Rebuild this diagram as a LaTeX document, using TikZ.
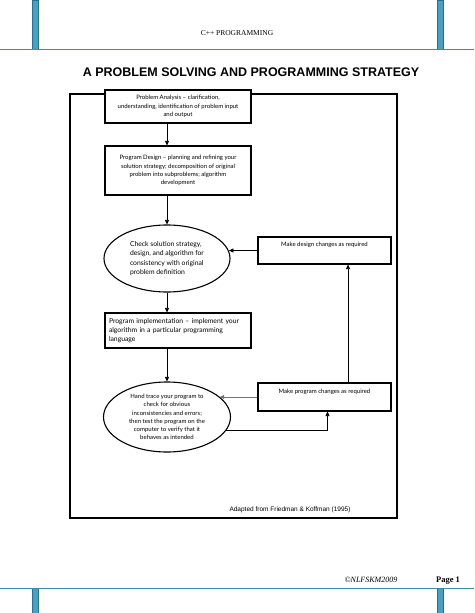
\documentclass[tikz,border=0pt]{standalone}
\usepackage{fontspec}
\setmainfont{Liberation Serif}
\newfontfamily\gillfont{Lato}
\newfontfamily\arialfont{Liberation Sans}
\usetikzlibrary{arrows.meta,shapes.geometric}

\definecolor{barblue}{HTML}{4B9FC1}
\definecolor{baredge}{HTML}{2B6F8A}
\definecolor{ruleteal}{HTML}{3C8D9F}

\newcommand{\smalltxt}{\gillfont\fontsize{6}{8.2}\selectfont}
\newcommand{\bigtxt}{\gillfont\fontsize{6.8}{9.3}\selectfont}

\begin{document}
\begin{tikzpicture}[
        x=1pt, y=-1pt,
        >={Triangle[length=4.5pt,width=4pt]},
        % Block-Stile
        stepbox/.style={draw=black, fill=white, line width=1.1pt, rectangle, minimum width=146pt, align=center, font=\smalltxt},
        checkoval/.style={draw=black, fill=white, line width=1.1pt, ellipse, inner sep=0pt, align=left, font=\bigtxt},
        traceoval/.style={draw=black, fill=white, line width=1.1pt, ellipse, inner sep=0pt, align=center, font=\smalltxt},
        changebox/.style={draw=black, fill=white, line width=1.1pt, rectangle, minimum width=133pt, align=center, font=\smalltxt, text height=5pt},
        flow/.style={->, line width=0.7pt, draw=black},
        pagebar/.style={fill=barblue, draw=baredge, line width=0.5pt}
    ]
    \useasboundingbox (0,0) rectangle (474,613);

    % ==========================================
    % 1. SEITENRAHMEN
    % ==========================================
    \draw[pagebar] (32,0) rectangle (38,49);
    \draw[pagebar] (437,0) rectangle (443,49);
    \draw[ruleteal, line width=0.8pt] (0,49) -- (474,49);
    \draw[pagebar] (32,588) rectangle (38,613);
    \draw[pagebar] (437,588) rectangle (443,613);
    \draw[ruleteal, line width=0.8pt] (0,588) -- (474,588);

    \node (header) at (237, 33) {\fontsize{7.5}{9}\selectfont C++ PROGRAMMING};
    \node (title) at (251, 72) {\arialfont\bfseries\fontsize{12.5}{15}\selectfont A PROBLEM SOLVING AND PROGRAMMING STRATEGY};
    \node[anchor=base] (copyright) at (371, 582) {\fontsize{8}{10}\selectfont\itshape \textcopyright NLFSKM2009};
    \node[anchor=base] (pagenum) at (448, 582) {\fontsize{8.5}{10}\selectfont\bfseries Page 1};

    % Rahmen um das Diagramm
    \draw[line width=1.1pt] (70,94) rectangle (397,518);

    % ==========================================
    % 2. KNOTEN (BLÖCKE) PLATZIEREN
    % ==========================================
    \node[stepbox, minimum height=33pt] (analysis) at (178, 106.5) {Problem Analysis – clarification,\\ understanding, identification of problem input\\ and output};
    \node[stepbox, minimum height=49pt] (design) at (178, 170.5) {Program Design – planning and refining your\\ solution strategy; decomposition of original\\ problem into subproblems; algorithm\\ development};
    \node[checkoval, minimum width=126pt, minimum height=67pt] (check) at (167, 258.5) {Check solution strategy,\\ design, and algorithm for\\ consistency with original\\ problem definition};
    \node[stepbox, minimum height=35pt, text width=138pt, align=left, font=\bigtxt] (implement) at (178, 330.5) {Program implementation – implement your\\ algorithm in a particular programming\\ language};
    \node[traceoval, minimum width=127pt, minimum height=70pt] (trace) at (167, 417) {Hand trace your program to\\ check for obvious\\ inconsistencies and errors;\\ then test the program on the\\ computer to verify that it\\ behaves as intended};

    \node[changebox, minimum height=27pt, text depth=13pt] (designchg) at (324.5, 250.5) {Make design changes as required};
    \node[changebox, minimum height=28pt, text depth=12pt] (progchg) at (324.5, 397) {Make program changes as required};

    \node[anchor=base] (source) at (290, 511) {\arialfont\fontsize{6.5}{8}\selectfont Adapted from Friedman \& Koffman (1995)};

    % ==========================================
    % 3. VERBINDUNGEN ZIEHEN
    % ==========================================
    \draw[flow] (analysis.south -| check) -- (design.north -| check);
    \draw[flow] (design.south -| check) -- (check.north);
    \draw[flow] (check.south) -- (implement.north -| check);
    \draw[flow] (implement.south -| trace) -- (trace.north);

    % --- Rückführungen ---
    \draw[flow] (designchg.west) -- (designchg.west -| check.7);
    \draw[flow] ([xshift=23.5pt]progchg.north) -- ([xshift=23.5pt]designchg.south);
    \draw[flow, draw=black!55] (progchg.west) -- (progchg.west -| trace.21);
    \draw[flow] (trace.-13.5) -| ([xshift=3pt]progchg.south);

\end{tikzpicture}
\end{document}
